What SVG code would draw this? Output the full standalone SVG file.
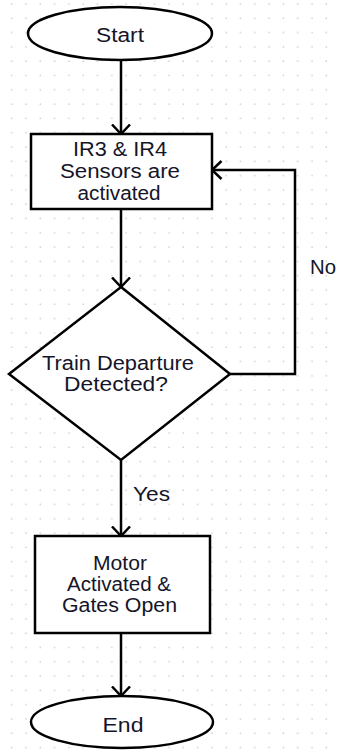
<svg xmlns="http://www.w3.org/2000/svg" width="337" height="751" viewBox="0 0 337 751">
  <defs>
    <pattern id="grid" x="0" y="0" width="14.3" height="14.3" patternUnits="userSpaceOnUse">
      <rect x="11" y="3.3" width="1.5" height="1.5" fill="#cfcfcf"/>
    </pattern>
    <marker id="arrow" viewBox="0 0 12 20" refX="10.5" refY="10" markerWidth="12" markerHeight="20" markerUnits="userSpaceOnUse" orient="auto">
      <path d="M1,1 L10.5,10 L1,19" fill="none" stroke="#000" stroke-width="2.5"/>
    </marker>
  </defs>
  <style>
    .shape { fill: #fff; stroke: #000; stroke-width: 2.5; }
    .conn { fill: none; stroke: #000; stroke-width: 2.5; }
    .t { font-family: "Liberation Sans", Arial, sans-serif; font-size: 19.5px; fill: #15152a; text-anchor: middle; }
    .lbl { font-family: "Liberation Sans", Arial, sans-serif; font-size: 19.5px; fill: #15152a; }
  </style>
  <rect x="0" y="0" width="337" height="751" fill="#fff"/>
  <rect x="0" y="0" width="337" height="751" fill="url(#grid)"/>

  <g id="connectors">
    <line class="conn" x1="121" y1="60" x2="121" y2="134" marker-end="url(#arrow)"/>
    <line class="conn" x1="121" y1="209" x2="121" y2="287" marker-end="url(#arrow)"/>
    <line class="conn" x1="121" y1="460" x2="121" y2="536" marker-end="url(#arrow)"/>
    <line class="conn" x1="121" y1="633" x2="121" y2="696" marker-end="url(#arrow)"/>
    <polyline class="conn" points="230,374 295,374 295,170 212,170" marker-end="url(#arrow)"/>
    <text class="lbl" x="133" y="501" textLength="37" lengthAdjust="spacingAndGlyphs">Yes</text>
    <text class="lbl" x="310" y="274" textLength="26" lengthAdjust="spacingAndGlyphs">No</text>
  </g>

  <g id="start">
    <ellipse class="shape" cx="120" cy="33.5" rx="92" ry="26.5"/>
    <text class="t" x="120" y="42" font-size="20.5" textLength="48" lengthAdjust="spacingAndGlyphs">Start</text>
  </g>

  <g id="sensors">
    <rect class="shape" x="31" y="134" width="181" height="75"/>
    <text class="t" x="120" y="156" textLength="94" lengthAdjust="spacingAndGlyphs">IR3 &amp; IR4</text>
    <text class="t" x="120" y="178" textLength="120" lengthAdjust="spacingAndGlyphs">Sensors are</text>
    <text class="t" x="119" y="200" textLength="83" lengthAdjust="spacingAndGlyphs">activated</text>
  </g>

  <g id="decision">
    <polygon class="shape" points="121,287 230,374 121,460 9,374"/>
    <text class="t" x="118" y="370" textLength="152" lengthAdjust="spacingAndGlyphs">Train Departure</text>
    <text class="t" x="116" y="391" textLength="104" lengthAdjust="spacingAndGlyphs">Detected?</text>
  </g>

  <g id="motor">
    <rect class="shape" x="35" y="536" width="175" height="97"/>
    <text class="t" x="120" y="570" textLength="54" lengthAdjust="spacingAndGlyphs">Motor</text>
    <text class="t" x="119" y="591" textLength="104" lengthAdjust="spacingAndGlyphs">Activated &amp;</text>
    <text class="t" x="119.5" y="612" textLength="115" lengthAdjust="spacingAndGlyphs">Gates Open</text>
  </g>

  <g id="end">
    <ellipse class="shape" cx="122" cy="722" rx="91" ry="26"/>
    <text class="t" x="123" y="732" font-size="20.5" textLength="41" lengthAdjust="spacingAndGlyphs">End</text>
  </g>
</svg>
